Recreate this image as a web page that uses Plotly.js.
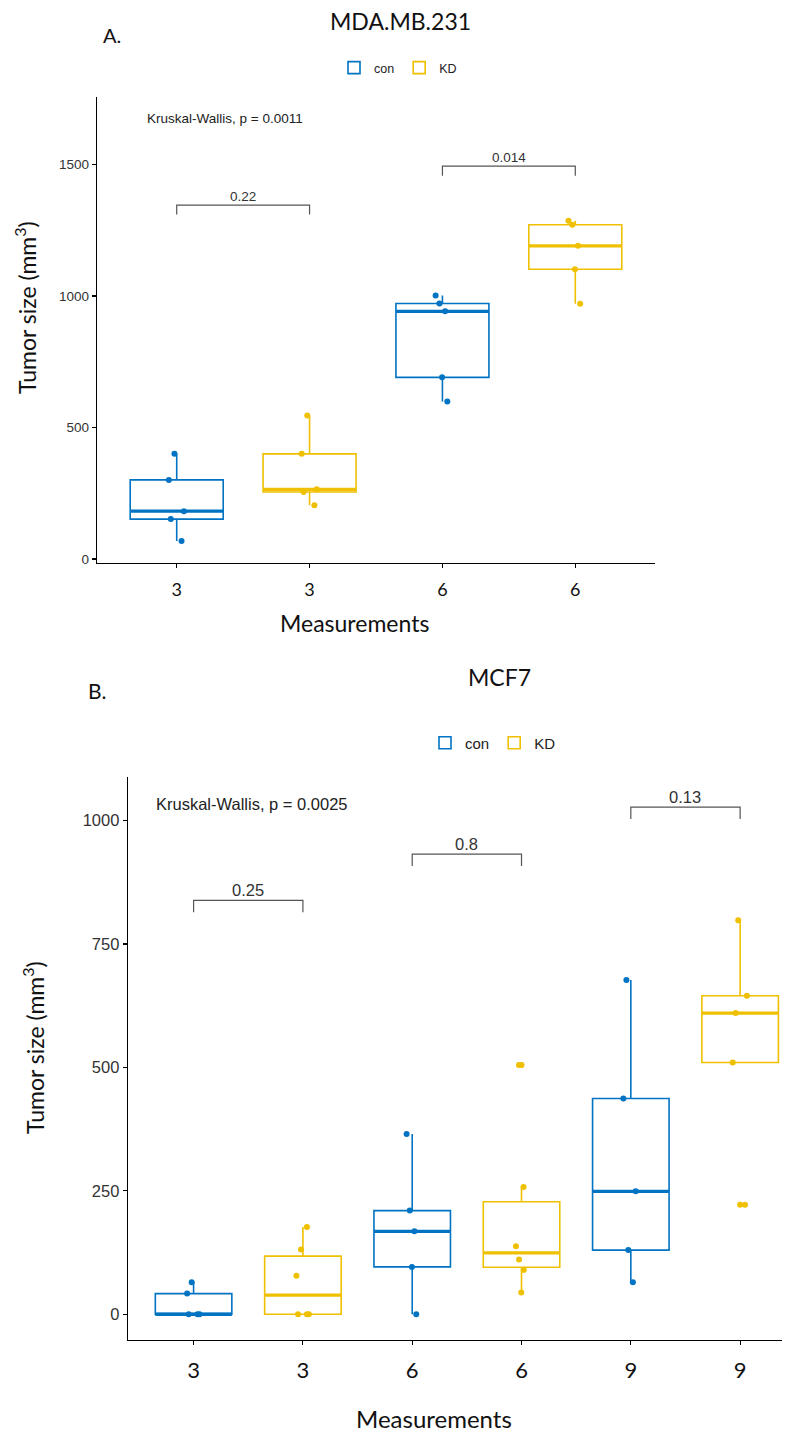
<!DOCTYPE html>
<html>
<head>
<meta charset="utf-8">
<script src="https://cdn.plot.ly/plotly-3.0.1.min.js"></script>
<style>html,body{margin:0;padding:0;background:#fff;}#chart{width:794px;height:1435px;}</style>
</head>
<body>
<div id="chart"></div>
<script>
// ---------------- DATA ----------------
// Panel A: MDA.MB.231
const groups = ['con', 'KD'];
const catsA = ['3', '3', '6', '6'];
const conA_3 = [400, 301, 182, 152, 69];
const kdA_3 = [546, 400, 265, 255, 205];
const conA_6 = [1002, 972, 942, 691, 599];
const kdA_6 = [1286, 1271, 1191, 1102, 971];
const bracketA_left = [1, 3];
const bracketA_right = [2, 4];
const bracketA_y = [1346, 1494];
const bracketA_label = ['0.22', '0.014'];
const kruskalA = 'Kruskal-Wallis, p = 0.0011';

// Panel B: MCF7
const catsB = ['3', '3', '6', '6', '9', '9'];
const conB_3 = [65, 42, 0, 0, 0];
const kdB_3 = [177, 131, 78, 0, 0, 0];
const conB_6 = [365, 210, 168, 96, 0];
const kdB_6 = [505, 258, 138, 111, 90, 44];
const conB_9 = [677, 437, 249, 130, 65];
const kdB_9 = [798, 645, 610, 510, 222];
const bracketB_left = [1, 3, 5];
const bracketB_right = [2, 4, 6];
const bracketB_y = [838, 932, 1027];
const bracketB_label = ['0.25', '0.8', '0.13'];
const kruskalB = 'Kruskal-Wallis, p = 0.0025';

// ---------------- STYLE ----------------
const COL = {con: '#0073C2', KD: '#EFC000'};
const FT = 'Lato, "Open Sans", sans-serif';
const FA = '"Liberation Sans", Arial, sans-serif';
const W = 794, H = 1435;
const px = v => v / W;
const py = v => 1 - v / H;

function quant(arr, p) {
  const s = arr.slice().sort((a, b) => a - b);
  const h = (s.length - 1) * p;
  const lo = Math.floor(h), hi = Math.ceil(h);
  return s[lo] + (h - lo) * (s[hi] - s[lo]);
}
function stats(arr) {
  const q1 = quant(arr, 0.25), med = quant(arr, 0.5), q3 = quant(arr, 0.75);
  const iqr = q3 - q1;
  const lo = q1 - 1.5 * iqr, hi = q3 + 1.5 * iqr;
  const inside = arr.filter(v => v >= lo && v <= hi);
  const out = arr.filter(v => v < lo || v > hi);
  return {q1, med, q3, lf: Math.min(...inside), uf: Math.max(...inside), out};
}

const traces = [];
const shapes = [];
const annotations = [];

function addGroup(name, seriesList, positions, xa, ya, legendId) {
  const st = seriesList.map(stats);
  traces.push({
    type: 'box', name: name, x: positions,
    q1: st.map(s => s.q1), median: st.map(s => s.med), q3: st.map(s => s.q3),
    lowerfence: st.map(s => s.lf), upperfence: st.map(s => s.uf),
    boxpoints: false, width: 0.7, whiskerwidth: 0,
    line: {color: COL[name], width: 1.6}, fillcolor: 'rgba(255,255,255,0)',
    xaxis: xa, yaxis: ya, legend: legendId, hoverinfo: 'skip'
  });
  // jittered sample points
  const xs = [], ys = [];
  seriesList.forEach((arr, i) => arr.forEach(v => { xs.push(positions[i]); ys.push(v); }));
  traces.push({
    type: 'box', name: name, x: xs, y: ys, boxpoints: 'all', jitter: 0.2, pointpos: 0,
    width: 0.7, line: {width: 0, color: 'rgba(0,0,0,0)'}, fillcolor: 'rgba(0,0,0,0)',
    marker: {color: COL[name], size: 6}, showlegend: false,
    xaxis: xa, yaxis: ya, hoverinfo: 'skip'
  });
  // boxplot outliers (drawn at box centre, as ggplot does)
  const ox = [], oy = [];
  st.forEach((s, i) => s.out.forEach(v => { ox.push(positions[i]); oy.push(v); }));
  if (ox.length) traces.push({
    type: 'scatter', mode: 'markers', x: ox, y: oy, marker: {color: COL[name], size: 6},
    showlegend: false, xaxis: xa, yaxis: ya, hoverinfo: 'skip'
  });
  st.forEach((s, i) => shapes.push({
    type: 'line', xref: xa, yref: ya, x0: positions[i] - 0.35, x1: positions[i] + 0.35,
    y0: s.med, y1: s.med, line: {color: COL[name], width: 3.2}
  }));
}

function addBrackets(lefts, rights, ys, labels, tip, xa, ya, fsize) {
  lefts.forEach((l, i) => {
    const r = rights[i], y = ys[i];
    shapes.push({type: 'path', xref: xa, yref: ya,
      path: `M ${l},${y - tip} L ${l},${y} L ${r},${y} L ${r},${y - tip}`,
      line: {color: '#555', width: 1.2}});
    annotations.push({xref: xa, yref: ya, x: (l + r) / 2, y: y, yanchor: 'bottom',
      text: labels[i], showarrow: false, borderpad: 0,
      font: {family: FA, size: fsize, color: '#333'}});
  });
}

// Panel A
addGroup('con', [conA_3, conA_6], [1, 3], 'x', 'y', 'legend');
addGroup('KD', [kdA_3, kdA_6], [2, 4], 'x', 'y', 'legend');
addBrackets(bracketA_left, bracketA_right, bracketA_y, bracketA_label, 36, 'x', 'y', 13.5);
// Panel B
addGroup('con', [conB_3, conB_6, conB_9], [1, 3, 5], 'x2', 'y2', 'legend2');
addGroup('KD', [kdB_3, kdB_6, kdB_9], [2, 4, 6], 'x2', 'y2', 'legend2');
addBrackets(bracketB_left, bracketB_right, bracketB_y, bracketB_label, 24, 'x2', 'y2', 16.5);

// Text annotations
annotations.push(
  {xref: 'x', yref: 'y', x: 0.76, y: 1677, xanchor: 'left', yanchor: 'middle', text: kruskalA,
   showarrow: false, font: {family: FA, size: 13.5, color: '#222'}},
  {xref: 'x2', yref: 'y2', x: 0.64, y: 1034, xanchor: 'left', yanchor: 'middle', text: kruskalB,
   showarrow: false, font: {family: FA, size: 16.5, color: '#222'}},
  {xref: 'paper', yref: 'paper', x: px(400), y: py(21), text: 'MDA.MB.231', showarrow: false,
   xanchor: 'center', yanchor: 'middle', font: {family: FT, size: 23, color: '#111'}},
  {xref: 'paper', yref: 'paper', x: px(101), y: py(35), text: 'A.', showarrow: false,
   xanchor: 'left', yanchor: 'middle', font: {family: FT, size: 20, color: '#111'}},
  {xref: 'paper', yref: 'paper', x: px(499), y: py(677), text: 'MCF7', showarrow: false,
   xanchor: 'center', yanchor: 'middle', font: {family: FT, size: 23, color: '#111'}},
  {xref: 'paper', yref: 'paper', x: px(86), y: py(690), text: 'B.', showarrow: false,
   xanchor: 'left', yanchor: 'middle', font: {family: FT, size: 21, color: '#111'}},
  {xref: 'paper', yref: 'paper', x: px(354), y: py(623), text: 'Measurements', showarrow: false,
   xanchor: 'center', yanchor: 'middle', font: {family: FT, size: 23, color: '#111'}},
  {xref: 'paper', yref: 'paper', x: px(434), y: py(1418), text: 'Measurements', showarrow: false,
   xanchor: 'center', yanchor: 'middle', font: {family: FT, size: 24, color: '#111'}},
  {xref: 'paper', yref: 'paper', x: px(26), y: py(308), text: 'Tumor size (mm<sup>3</sup>)', showarrow: false,
   textangle: -90, xanchor: 'center', yanchor: 'middle', font: {family: FT, size: 23, color: '#111'}},
  {xref: 'paper', yref: 'paper', x: px(33), y: py(1048), text: 'Tumor size (mm<sup>3</sup>)', showarrow: false,
   textangle: -90, xanchor: 'center', yanchor: 'middle', font: {family: FT, size: 23, color: '#111'}}
);

function xAxis(domain, n, cats, fsize, anchor) {
  return {domain: domain, range: [0.4, n], anchor: anchor, showgrid: false, zeroline: false,
    showline: true, linecolor: '#000', linewidth: 1.3, ticks: 'outside', ticklen: 4,
    tickcolor: '#000', tickwidth: 1.2, tickmode: 'array',
    tickvals: cats.map((c, i) => i + 1), ticktext: cats,
    tickfont: {family: FT, size: fsize, color: '#111'}, ticklabelstandoff: 6, fixedrange: true};
}
function yAxis(domain, range, tv, fsize, anchor) {
  return {domain: domain, range: range, anchor: anchor, showgrid: false, zeroline: false,
    showline: true, linecolor: '#000', linewidth: 1.3, ticks: 'outside', ticklen: 4,
    tickcolor: '#000', tickwidth: 1.2, tickmode: 'array', tickvals: tv,
    tickfont: {family: FA, size: fsize, color: '#333'}, fixedrange: true};
}

const layout = {
  width: W, height: H, margin: {l: 0, r: 0, t: 0, b: 0},
  paper_bgcolor: '#fff', plot_bgcolor: '#fff', boxmode: 'overlay',
  xaxis: xAxis([px(97), px(655)], 4.6, catsA, 18, 'y'),
  yaxis: yAxis([py(563), py(97)], [-15, 1757], [0, 500, 1000, 1500], 13.5, 'x'),
  xaxis2: xAxis([px(128), px(782)], 6.383, catsB, 22, 'y2'),
  yaxis2: yAxis([py(1340), py(777)], [-52, 1088], [0, 250, 500, 750, 1000], 16.5, 'x2'),
  legend: {orientation: 'h', x: px(398), xanchor: 'center', y: py(68), yanchor: 'middle',
    font: {family: FA, size: 12.5, color: '#222'}, itemwidth: 30, bgcolor: 'rgba(0,0,0,0)'},
  legend2: {orientation: 'h', x: px(493), xanchor: 'center', y: py(743), yanchor: 'middle',
    font: {family: FA, size: 15, color: '#222'}, itemwidth: 30, bgcolor: 'rgba(0,0,0,0)'},
  shapes: shapes, annotations: annotations, showlegend: true
};

Plotly.newPlot('chart', traces, layout, {staticPlot: true, displayModeBar: false});
</script>
</body>
</html>
